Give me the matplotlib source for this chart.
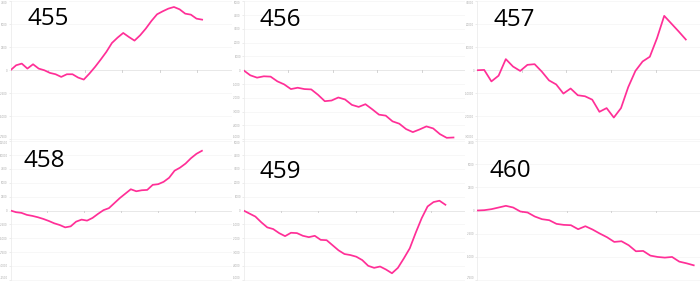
import matplotlib
matplotlib.use("Agg")
import matplotlib.pyplot as plt
import numpy as np

labels = ["455", "456", "457", "458", "459", "460"]

s455 = [0, 543, 725, 181, 652, 181, 0, -290, -435, -725, -435, -435, -797, -1014, -362,
        362, 1159, 1993, 2971, 3551, 4058, 3623, 3225, 3804, 4529, 5362, 6087, 6413, 6703,
        6884, 6630, 6159, 6051, 5616, 5507]
s456 = [0, -366, -537, -439, -463, -805, -1024, -1366, -1268, -1366, -1390, -1780, -2244,
        -2195, -1975, -2122, -2512, -2659, -2463, -2829, -3220, -3293, -3707, -3878, -4268,
        -4488, -4293, -4073, -4220, -4634, -4902, -4878]
s457 = [0, 147, -4853, -2353, 4853, 1618, -294, 2353, 2647, -588, -4412, -6176, -10147,
        -7941, -10882, -11324, -12794, -18088, -16471, -20588, -16471, -7353, -294, 3824,
        5882, 13971, 23676, 20294, 16912, 13382]
s458 = [0, -305, -427, -793, -976, -1220, -1524, -1890, -2317, -2622, -3049, -2866, -2012,
        -1646, -1829, -1341, -610, 61, 427, 1341, 2256, 3049, 3841, 3476, 3659, 3720, 4634,
        4756, 5183, 5915, 7195, 7744, 8476, 9451, 10244, 10793]
s459 = [0, -220, -439, -854, -1220, -1341, -1634, -1854, -1610, -1634, -1829, -1927, -1829,
        -2122, -2146, -2512, -2878, -3146, -3220, -3341, -3585, -3999, -4146, -4049, -4268,
        -4537, -4146, -3463, -2732, -1610, -561, 293, 610, 707, 415]
s460 = [0, 36, 145, 326, 507, 326, -109, -217, -652, -942, -1051, -1449, -1558, -1594,
        -2029, -1703, -2065, -2500, -2899, -3406, -3333, -3768, -4420, -4384, -4891, -5036,
        -5109, -5036, -5543, -5725, -5942]
series = [s455, s456, s457, s458, s459, s460]

ytick_steps = [2500, 1000, 10000, 2500, 1000, 2500]
ytick_counts = [3, 5, 3, 5, 5, 3]
xmax = [39.3, 32.7, 30.9, 40.5, 37.3, 30.8]
xstep = [6.62, 6.58, 6.2, 6.75, 6.3, 6.2]

W, H = 700, 281
fig = plt.figure(figsize=(W / 100, H / 100), dpi=100)
fig.patch.set_facecolor("white")

col_left = [10.5, 243.5, 477]
row_box = [(141, 139.5), (0.5, 140)]  # (bottom, height) in px
label_pos = [(27, 25), (259, 26), (493, 26), (24, 167), (259, 178), (490, 177)]
pink = "#ff2f97"

for i, ys in enumerate(series):
    r, c = divmod(i, 3)
    bottom, height = row_box[r]
    left = col_left[c]
    width = 232 - 10.5 if c == 0 else (465 - 243.5 if c == 1 else 699.5 - 477)
    ax = fig.add_axes([left / W, bottom / H, width / W, height / H])
    x = np.arange(len(ys))
    ax.plot(x, ys, color=pink, lw=1.25, solid_joinstyle="round", zorder=3)
    n = ytick_counts[i]
    st = ytick_steps[i]
    ticks = [k * st for k in range(-n, n + 1)]
    lim = n * st * 1.012
    ax.set_ylim(-lim, lim)
    ax.set_xlim(0, xmax[i])
    ax.set_yticks(ticks)
    ax.set_yticklabels([str(t) for t in ticks], fontsize=1.9, color="#aaaaaa")
    ax.tick_params(axis="y", length=1.5, width=0.4, color="#dddddd", pad=0.5)
    tl = ax.get_yticklabels()
    tl[0].set_va("bottom")
    tl[-1].set_va("top")
    for t in ticks:
        if t != 0:
            ax.axhline(t, color="#f4f4f4", lw=0.5, zorder=1)
    ax.axhline(0, color="#e4e4e4", lw=0.6, zorder=2)
    xt = np.arange(xstep[i], xmax[i], xstep[i])
    for xv in xt:
        ax.plot([xv, xv], [0, -lim * 0.02], color="#cccccc", lw=0.6, zorder=2)
    ax.set_xticks([])
    for side in ["top", "right", "bottom"]:
        ax.spines[side].set_visible(False)
    ax.spines["left"].set_color("#ececec")
    ax.spines["left"].set_linewidth(0.6)
    ax.set_facecolor("none")
    lx, ly = label_pos[i]
    fig.text(lx / W, 1 - ly / H, labels[i], fontsize=17.5, family="Open Sans",
             color="black", va="baseline", ha="left")

fig.savefig("out.png", dpi=100, facecolor="white")
